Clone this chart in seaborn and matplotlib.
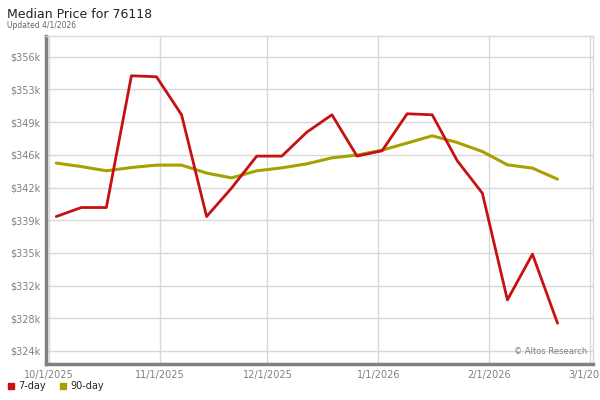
import pandas as pd
import numpy as np
import matplotlib
matplotlib.use("Agg")
import matplotlib.pyplot as plt
import matplotlib.dates as mdates
import seaborn as sns
from matplotlib.lines import Line2D

# weekly dates (Fridays)
dates = pd.date_range("2025-10-03", periods=21, freq="7D")

price_7day = [339.04, 340.02, 340.02, 354.37, 354.26, 350.12, 339.04, 342.16,
              345.62, 345.62, 348.23, 350.12, 345.62, 346.2, 350.23, 350.12,
              345.11, 341.59, 329.96, 334.94, 327.42]
price_90day = [344.86, 344.48, 344.02, 344.38, 344.64, 344.64, 343.77, 343.25,
               344.02, 344.34, 344.78, 345.43, 345.73, 346.27, 347.04, 347.83,
               347.1, 346.12, 344.67, 344.31, 343.11]

series_names = ["7-day", "90-day"]
series_colors = ["#c81010", "#a8a000"]

tick_dates = ["2025-10-01", "2025-11-01", "2025-12-01", "2026-01-01", "2026-02-01", "2026-03-01"]
tick_labels = ["10/1/2025", "11/1/2025", "12/1/2025", "1/1/2026", "2/1/2026", "3/1/2026"]
y_ticks = [324400 + i * 3560 for i in range(10)]

df = pd.DataFrame({
    "date": list(dates) * 2,
    "price": [v * 1000 for v in price_7day + price_90day],
    "series": ["7-day"] * len(dates) + ["90-day"] * len(dates),
})

sns.set_style("white")
plt.rcParams["font.family"] = ["DejaVu Sans"]

fig = plt.figure(figsize=(6, 4), dpi=100)
ax = fig.add_axes([0.0767, 0.09, 0.9113, 0.82])

sns.lineplot(data=df, x="date", y="price", hue="series", hue_order=series_names,
             palette=series_colors, ax=ax, legend=False)
for line, lw in zip(ax.get_lines(), [2.0, 2.2]):
    line.set_linewidth(lw)
ax.get_lines()[1].set_zorder(2)
ax.get_lines()[0].set_zorder(3)

ax.set_xlim(pd.Timestamp("2025-10-01") - pd.Timedelta(days=0.85),
            pd.Timestamp("2026-03-01") + pd.Timedelta(days=0.85))
ax.set_ylim(322980, 358700)

ax.set_xticks(pd.to_datetime(tick_dates))
ax.set_xticklabels(tick_labels)
ax.set_yticks(y_ticks)
ax.set_yticklabels([f"${v / 1000:.0f}k" for v in y_ticks])
ax.tick_params(axis="both", length=0, labelsize=7, colors="#808080", pad=4)
ax.grid(True, color="#d8d8d8", linewidth=1)
ax.set_axisbelow(True)
ax.set_xlabel("")
ax.set_ylabel("")

for side in ["top", "right"]:
    ax.spines[side].set_color("#d8d8d8")
    ax.spines[side].set_linewidth(1)
for side in ["left", "bottom"]:
    ax.spines[side].set_color("#808080")
    ax.spines[side].set_linewidth(2.5)

fig.text(0.012, 0.965, "Median Price for 76118", fontsize=9, color="#222222", va="center")
fig.text(0.012, 0.937, "Updated 4/1/2026", fontsize=5.5, color="#666666", va="center")
ax.text(0.99, 0.025, "\u00a9 Altos Research", transform=ax.transAxes, fontsize=6,
        color="#808080", ha="right", va="bottom")

handles = [Line2D([], [], marker="s", linestyle="none", markersize=5,
                  color=c, label=n) for n, c in zip(series_names, series_colors)]
fig.legend(handles=handles, loc="lower left", bbox_to_anchor=(-0.005, 0.0), ncol=2,
           frameon=False, fontsize=7, handletextpad=0.3, columnspacing=1.2,
           handlelength=1.0)

fig.savefig("out.png", dpi=100)
